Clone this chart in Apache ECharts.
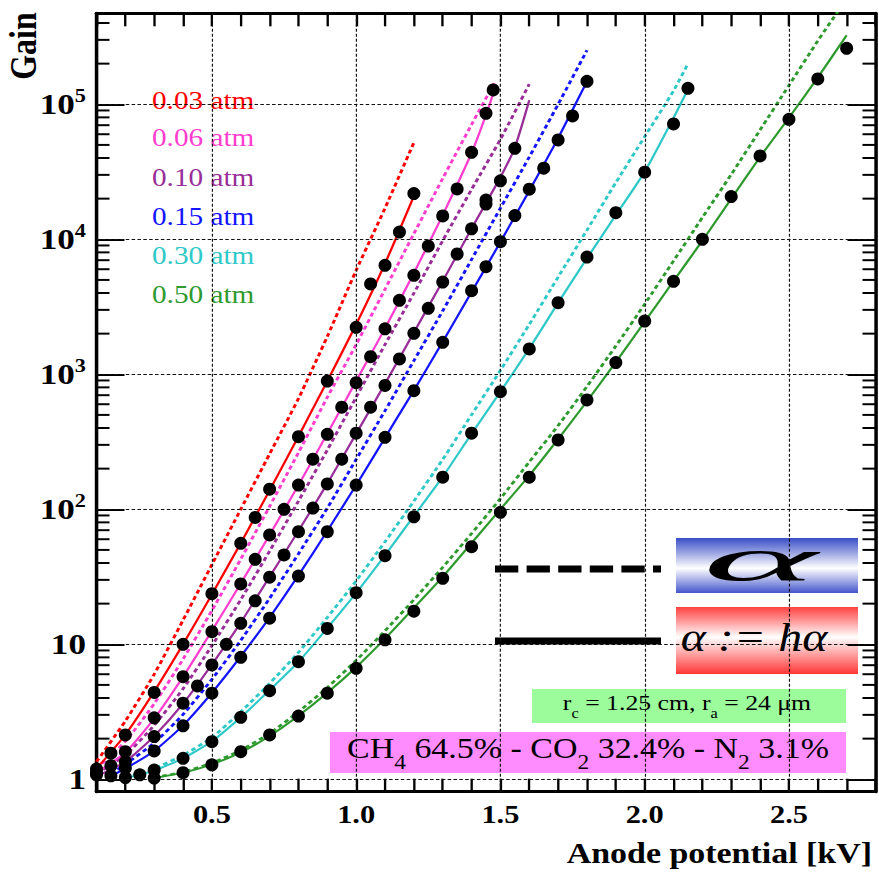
<!DOCTYPE html>
<html>
<head>
<meta charset="utf-8">
<title>Gain vs anode potential</title>
<script src="https://cdn.jsdelivr.net/npm/echarts@6/dist/echarts.min.js"></script>
<style>
  html, body { margin: 0; padding: 0; background: #fff; overflow: hidden; }
  #wrap { width: 879px; height: 872px; overflow: hidden; }
  /* the plot is laid out 751px wide and stretched to 879px, giving the wide serif look */
  #chart { width: 751px; height: 872px; transform: scaleX(1.170439); transform-origin: 0 0; }
</style>
</head>
<body>
<div id="wrap"><div id="chart"></div></div>
<script>
// ---- measured gain vs anode potential [kV], one list per gas pressure ----
const pressures = ['0.03 atm', '0.06 atm', '0.10 atm', '0.15 atm', '0.30 atm', '0.50 atm'];

const meas003 = [[0.10,1.19],[0.15,1.56],[0.20,2.13],[0.30,4.4],[0.40,10.0],[0.50,23.7],[0.60,56],[0.65,87],[0.70,141],[0.80,345],[0.90,890],[1.00,2230],[1.05,4670],[1.10,6420],[1.15,11300],[1.20,21800]];
const meas006 = [[0.10,1.12],[0.15,1.26],[0.20,1.60],[0.30,2.85],[0.40,5.75],[0.50,12.4],[0.60,28],[0.65,42.6],[0.70,64.5],[0.75,100],[0.80,151],[0.85,235],[0.90,359],[0.95,570],[1.00,867],[1.05,1350],[1.10,2170],[1.15,3530],[1.20,5410],[1.25,8910],[1.30,14900],[1.35,23600],[1.40,44100],[1.45,85800],[1.475,127600]];
const meas010 = [[0.10,1.08],[0.20,1.35],[0.30,2.07],[0.40,3.66],[0.45,4.91],[0.50,7.03],[0.55,10.0],[0.60,14.3],[0.65,21.0],[0.70,31.4],[0.75,45.9],[0.80,68.3],[0.85,102],[0.90,154],[0.95,235],[1.00,366],[1.05,570],[1.10,826],[1.15,1300],[1.20,2010],[1.25,3080],[1.30,4820],[1.35,7780],[1.40,11950],[1.45,19540],[1.45,18240],[1.50,27100],[1.55,47200]];
const meas015 = [[0.15,1.06],[0.20,1.21],[0.30,1.62],[0.40,2.49],[0.50,4.34],[0.60,8.0],[0.70,15.6],[0.80,32],[0.90,68.3],[1.00,151],[1.10,341],[1.20,756],[1.30,1726],[1.40,4160],[1.45,6270],[1.50,9600],[1.55,15000],[1.60,23500],[1.65,33600],[1.70,54400],[1.75,81900],[1.80,148000]];
const meas030 = [[0.20,1.03],[0.25,1.08],[0.30,1.17],[0.40,1.43],[0.50,1.90],[0.60,2.88],[0.70,4.53],[0.80,7.43],[0.90,13.1],[1.00,24.1],[1.10,45.3],[1.20,88],[1.30,173],[1.40,366],[1.50,743],[1.60,1540],[1.70,3390],[1.80,7390],[1.90,15740],[2.00,31400],[2.10,71500],[2.15,131400]];
const meas050 = [[0.30,1.02],[0.40,1.12],[0.50,1.28],[0.60,1.60],[0.70,2.13],[0.80,2.94],[0.90,4.34],[1.00,6.64],[1.10,10.8],[1.20,17.6],[1.30,30.8],[1.40,52.8],[1.50,95],[1.60,173],[1.70,326],[1.80,645],[1.90,1220],[2.00,2480],[2.10,4880],[2.20,10000],[2.30,20700],[2.40,41400],[2.50,77400],[2.60,154000],[2.70,260000]];

// ---- model curves: solid = corrected coefficient (α := hα), dashed = plain α ----
const fit003   = [[0.1,1.2],[0.2,2.14],[0.3,4.47],[0.4,10.0],[0.5,23.4],[0.6,56.2],[0.7,138],[0.8,347],[0.9,891],[1.0,2340],[1.1,6610],[1.2,20900]];
const alpha003 = [[0.1,1.35],[0.2,2.7],[0.3,6.0],[0.4,15.1],[0.5,38.9],[0.6,100],[0.7,257],[0.8,661],[0.9,1905],[1.0,5890],[1.1,17000],[1.2,52000]];
const fit006   = [[0.1,1.12],[0.2,1.58],[0.3,2.82],[0.4,5.75],[0.5,12.6],[0.6,28.2],[0.7,64.6],[0.8,151],[0.9,363],[1.0,891],[1.1,2190],[1.2,5620],[1.3,15100],[1.4,43600],[1.45,83200],[1.475,120000]];
const alpha006 = [[0.1,1.2],[0.2,1.91],[0.3,3.63],[0.4,7.76],[0.5,17.8],[0.6,42.7],[0.7,105],[0.8,263],[0.9,676],[1.0,1660],[1.1,4270],[1.2,11000],[1.3,28200],[1.4,70800],[1.48,145000]];
const fit010   = [[0.1,1.05],[0.2,1.35],[0.3,2.09],[0.4,3.63],[0.5,7.08],[0.6,14.5],[0.7,31.6],[0.8,69.2],[0.9,155],[1.0,363],[1.1,851],[1.2,2040],[1.3,4900],[1.4,12000],[1.5,28800],[1.55,47900],[1.6,107000]];
const alpha010 = [[0.1,1.1],[0.2,1.51],[0.3,2.51],[0.4,4.68],[0.5,9.77],[0.6,21.4],[0.7,49],[0.8,115],[0.9,275],[1.0,676],[1.1,1660],[1.2,3980],[1.3,9770],[1.4,23400],[1.5,55000],[1.6,141000]];
const fit015   = [[0.15,1.06],[0.2,1.2],[0.3,1.62],[0.4,2.51],[0.5,4.37],[0.6,8.13],[0.7,15.8],[0.8,32.4],[0.9,69.2],[1.0,151],[1.1,339],[1.2,759],[1.3,1740],[1.4,4070],[1.5,9550],[1.6,22900],[1.7,56200],[1.8,148000]];
const alpha015 = [[0.15,1.1],[0.2,1.29],[0.3,1.86],[0.4,3.02],[0.5,5.5],[0.6,10.7],[0.7,21.9],[0.8,46.8],[0.9,102],[1.0,234],[1.1,537],[1.2,1260],[1.3,2950],[1.4,7080],[1.5,17000],[1.6,40700],[1.7,100000],[1.8,251000]];
const fit030   = [[0.2,1.02],[0.3,1.16],[0.4,1.43],[0.5,1.91],[0.6,2.88],[0.7,4.57],[0.8,7.41],[0.9,13.2],[1.0,24],[1.1,45.7],[1.2,89.1],[1.3,174],[1.4,363],[1.5,741],[1.6,1550],[1.7,3390],[1.8,7240],[1.9,15100],[2.0,31600],[2.1,79400],[2.15,129000]];
const alpha030 = [[0.2,1.03],[0.3,1.2],[0.4,1.51],[0.5,2.04],[0.6,3.16],[0.7,5.13],[0.8,8.71],[0.9,15.8],[1.0,29.5],[1.1,57.5],[1.2,115],[1.3,234],[1.4,501],[1.5,1070],[1.6,2340],[1.7,5250],[1.8,11700],[1.9,26300],[2.0,57500],[2.1,126000],[2.15,200000]];
const fit050   = [[0.3,1.02],[0.4,1.12],[0.5,1.29],[0.6,1.58],[0.7,2.09],[0.8,2.95],[0.9,4.37],[1.0,6.76],[1.1,11],[1.2,18.6],[1.3,31.6],[1.4,56.2],[1.5,100],[1.6,178],[1.7,331],[1.8,631],[1.9,1230],[2.0,2450],[2.1,4900],[2.2,9770],[2.3,20000],[2.4,40700],[2.5,79400],[2.6,158000],[2.7,324000]];
const alpha050 = [[0.3,1.03],[0.4,1.13],[0.5,1.32],[0.6,1.64],[0.7,2.19],[0.8,3.16],[0.9,4.79],[1.0,7.59],[1.1,12.6],[1.2,21.4],[1.3,37.2],[1.4,66.1],[1.5,120],[1.6,224],[1.7,417],[1.8,813],[1.9,1620],[2.0,3310],[2.1,6920],[2.2,14500],[2.3,30200],[2.4,64600],[2.5,138000],[2.6,295000],[2.68,525000]];

// ---- axis ticks ----
const voltLabelTicks = [0.5, 1.0, 1.5, 2.0, 2.5];
const gainDecades = [1, 10, 100, 1000, 10000, 100000];

// ---- layout / style (kept apart from the values) ----
const SX = 879 / 751;                       // horizontal stretch of the drawing
const X_MIN = 0.1, X_MAX = 2.8, Y_MIN = 0.809, Y_MAX = 472000;
const SERIF = '"Liberation Serif", "DejaVu Serif", "Times New Roman", serif';
const colors = ['#ff0000', '#ff3dcf', '#992e99', '#1414ff', '#2ec8c8', '#2e9a2e'];
const MAJOR_LEN = 28 / SX, MINOR_LEN = 13 / SX;

const meas = [meas003, meas006, meas010, meas015, meas030, meas050];
const fits = [fit003, fit006, fit010, fit015, fit030, fit050];
const alphas = [alpha003, alpha006, alpha010, alpha015, alpha030, alpha050];

// minor ticks of the log axis: 2..9 inside every decade
const gainMinorTicks = [];
for (const d of gainDecades) {
  for (let m = 2; m <= 9; m++) { if (d * m < Y_MAX) gainMinorTicks.push(d * m); }
}

function decadeLabel(v) {
  const e = Math.log10(v), r = Math.round(e);
  if (Math.abs(e - r) > 1e-6) return '';
  if (r === 0) return '1';
  if (r === 1) return '10';
  return '10{s|' + r + '}';
}
function voltLabel(v) {
  return voltLabelTicks.some(t => Math.abs(t - v) < 1e-6) ? v.toFixed(1) : '';
}

const axisLineStyle = { lineStyle: { color: '#000', width: 3 } };
const xTick = { inside: true, length: 13, lineStyle: { color: '#000', width: 2 } };
const yTick = { inside: true, length: MAJOR_LEN, lineStyle: { color: '#000', width: 2 } };

const series = [];

// dotted grid at the labelled values
series.push({
  type: 'line', data: [], silent: true, z: 1,
  markLine: {
    silent: true, symbol: ['none', 'none'], label: { show: false }, animation: false,
    lineStyle: { color: '#111', type: [3, 2], width: 1 },
    data: voltLabelTicks.map(v => ({ xAxis: v })).concat(gainDecades.map(g => ({ yAxis: g })))
  }
});

// minor ticks on the left and right frame
series.push({
  type: 'custom', silent: true, clip: false, z: 6,
  data: gainMinorTicks.map(g => [X_MIN, g]),
  renderItem: function (params, api) {
    const g = api.value(1);
    const pl = api.coord([X_MIN, g]);
    const pr = api.coord([X_MAX, g]);
    return {
      type: 'group', children: [
        { type: 'line', shape: { x1: pl[0], y1: pl[1], x2: pl[0] + MINOR_LEN, y2: pl[1] }, style: { stroke: '#000', lineWidth: 2 } },
        { type: 'line', shape: { x1: pr[0] - MINOR_LEN, y1: pr[1], x2: pr[0], y2: pr[1] }, style: { stroke: '#000', lineWidth: 2 } }
      ]
    };
  }
});

pressures.forEach((p, i) => {
  series.push({
    name: p + ' α', type: 'line', data: alphas[i], symbol: 'none', smooth: 0.2, silent: true, z: 2,
    lineStyle: { color: colors[i], width: 2.6, type: [4, 3] }
  });
  series.push({
    name: p + ' hα', type: 'line', data: fits[i], symbol: 'none', smooth: 0.2, silent: true, z: 3,
    lineStyle: { color: colors[i], width: 2 }
  });
});
pressures.forEach((p, i) => {
  series.push({
    name: p, type: 'scatter', data: meas[i], symbol: 'circle', symbolSize: [13 / SX, 13],
    itemStyle: { color: '#000', opacity: 1 }, silent: true, z: 4
  });
});

// pressure labels, boxes and the line-style key
const legendY = [101, 138, 178, 217, 256, 295];
const graphic = [];
pressures.forEach((p, i) => {
  graphic.push({
    type: 'text', x: 152 / SX, y: legendY[i], silent: true,
    style: { text: p, fill: colors[i], font: '25px ' + SERIF, textAlign: 'left', textVerticalAlign: 'middle' }
  });
});
graphic.push(
  { type: 'text', x: 24 / SX, y: 46, rotation: Math.PI / 2, silent: true,
    style: { text: 'Gain', fill: '#000', font: 'bold 32px ' + SERIF, textAlign: 'center', textVerticalAlign: 'middle' } },
  { type: 'text', x: 872 / SX, y: 853, silent: true,
    style: { text: 'Anode potential [kV]', fill: '#000', font: 'bold 29px ' + SERIF, textAlign: 'right', textVerticalAlign: 'middle' } },
  // key: dashed = α, solid = α := hα
  { type: 'line', silent: true, shape: { x1: 495 / SX, y1: 569, x2: 661 / SX, y2: 569 },
    style: { stroke: '#000', lineWidth: 7, lineDash: [23.3 / SX, 8.3 / SX] } },
  { type: 'line', silent: true, shape: { x1: 495 / SX, y1: 641, x2: 661 / SX, y2: 641 },
    style: { stroke: '#000', lineWidth: 7 } },
  { type: 'rect', silent: true, shape: { x: 676 / SX, y: 538, width: 182 / SX, height: 55 },
    style: { fill: new echarts.graphic.LinearGradient(0, 0, 0, 1, [
      { offset: 0, color: '#3a4ec6' }, { offset: 0.55, color: '#ffffff' }, { offset: 1, color: '#4356cc' }]) } },
  { type: 'text', silent: true, x: 760 / SX, y: 559, scaleX: 3.0,
    style: { text: 'α', fill: '#000', font: 'italic 62px ' + SERIF, textAlign: 'center', textVerticalAlign: 'middle' } },
  { type: 'rect', silent: true, shape: { x: 676 / SX, y: 607, width: 182 / SX, height: 67 },
    style: { fill: new echarts.graphic.LinearGradient(0, 0, 0, 1, [
      { offset: 0, color: '#ff4040' }, { offset: 0.45, color: '#ffffff' }, { offset: 1, color: '#ff3535' }]) } },
  { type: 'text', silent: true, x: 754 / SX, y: 637,
    style: { text: 'α := hα', fill: '#000', font: 'italic 41px ' + SERIF, textAlign: 'center', textVerticalAlign: 'middle' } },
  { type: 'rect', silent: true, shape: { x: 532 / SX, y: 689, width: 314 / SX, height: 34 },
    style: { fill: '#9cfc9c' } },
  { type: 'text', silent: true, x: 687 / SX, y: 703,
    style: {
      text: 'r{b|c} = 1.25 cm, r{b|a} = 24 μm', fill: '#000', textAlign: 'center', textVerticalAlign: 'middle',
      fontFamily: SERIF, fontSize: 22, lineHeight: 34,
      rich: { b: { fontFamily: SERIF, fontSize: 14, lineHeight: 14, verticalAlign: 'bottom', fill: '#000' } }
    } },
  { type: 'rect', silent: true, shape: { x: 330 / SX, y: 732, width: 516 / SX, height: 41 },
    style: { fill: '#ff8cff' } },
  { type: 'text', silent: true, x: 588 / SX, y: 748,
    style: {
      text: 'CH{b|4} 64.5% - CO{b|2} 32.4% - N{b|2} 3.1%', fill: '#000', textAlign: 'center', textVerticalAlign: 'middle',
      fontFamily: SERIF, fontSize: 29, lineHeight: 50,
      rich: { b: { fontFamily: SERIF, fontSize: 20, lineHeight: 20, verticalAlign: 'bottom', fill: '#000' } }
    } }
);

const chart = echarts.init(document.getElementById('chart'), null, { renderer: 'svg' });
chart.setOption({
  animation: false,
  backgroundColor: '#fff',
  grid: { left: 96.5 / SX, right: 751 - 876.2 / SX, top: 13.3, bottom: 872 - 791.7, containLabel: false },
  xAxis: [
    { type: 'value', position: 'bottom', min: X_MIN, max: X_MAX, interval: 0.1,
      axisLine: axisLineStyle, axisTick: xTick, splitLine: { show: false },
      axisLabel: { formatter: voltLabel, fontFamily: SERIF, fontWeight: 'bold', fontSize: 26, color: '#000', margin: 10 } },
    { type: 'value', position: 'top', min: X_MIN, max: X_MAX, interval: 0.1,
      axisLine: axisLineStyle, axisTick: xTick, splitLine: { show: false }, axisLabel: { show: false } }
  ],
  yAxis: [
    { type: 'log', logBase: 10, position: 'left', min: Y_MIN, max: Y_MAX,
      axisLine: axisLineStyle, axisTick: yTick, splitLine: { show: false },
      axisLabel: {
        formatter: decadeLabel, fontFamily: SERIF, fontWeight: 'bold', fontSize: 30, lineHeight: 36,
        color: '#000', margin: 9,
        rich: { s: { fontFamily: SERIF, fontWeight: 'bold', fontSize: 19, lineHeight: 19, verticalAlign: 'top', color: '#000' } }
      } },
    { type: 'log', logBase: 10, position: 'right', min: Y_MIN, max: Y_MAX,
      axisLine: axisLineStyle, axisTick: yTick, splitLine: { show: false }, axisLabel: { show: false } }
  ],
  series: series,
  graphic: graphic
});
</script>
</body>
</html>
